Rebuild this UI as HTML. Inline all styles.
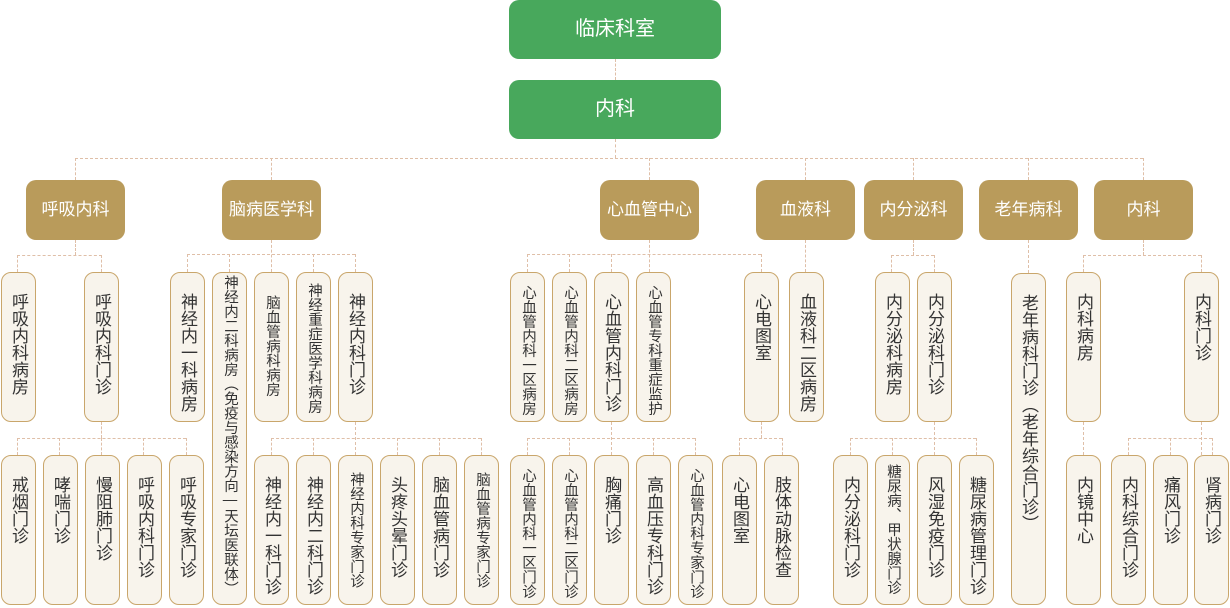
<!DOCTYPE html>
<html><head><meta charset="utf-8"><style>
body{margin:0;width:1230px;height:608px;background:#fff;position:relative;overflow:hidden;font-family:"Liberation Sans","Noto Sans CJK SC",sans-serif;}
.g{position:absolute;left:509px;width:212px;height:59px;background:#48a85c;border-radius:10px;color:#fff;font-size:20px;line-height:59px;text-align:center;}
.o{position:absolute;top:180px;width:99px;height:60px;background:#b99b5b;border-radius:10px;color:#fff;font-size:17px;line-height:60px;text-align:center;}
.v{position:absolute;width:35px;box-sizing:border-box;border:1px solid #c9a66b;border-radius:10px;background:#f8f4ec;writing-mode:vertical-rl;text-orientation:upright;font-size:17px;line-height:33px;padding-top:20px;color:#333;letter-spacing:0px;}
.s{font-size:14.5px;padding-top:16px;}
.a{top:272px;height:150px;}
.b{top:455px;height:150px;}
.h{position:absolute;height:0;border-top:1px dashed #dfbfa8;}
.l{position:absolute;width:0;border-left:1px dashed #dfbfa8;}
</style></head><body>
<div class="g" style="top:0">临床科室</div>
<div class="g" style="top:80px">内科</div>
<div class="l" style="left:615px;top:59px;height:21px"></div>
<div class="l" style="left:615px;top:139px;height:19px"></div>
<div class="h" style="left:75px;top:158px;width:1068px"></div>
<div class="l" style="left:75px;top:158px;height:22px"></div>
<div class="l" style="left:271px;top:158px;height:22px"></div>
<div class="l" style="left:649px;top:158px;height:22px"></div>
<div class="l" style="left:805px;top:158px;height:22px"></div>
<div class="l" style="left:913px;top:158px;height:22px"></div>
<div class="l" style="left:1028px;top:158px;height:22px"></div>
<div class="l" style="left:1143px;top:158px;height:22px"></div>

<div class="o" style="left:26px">呼吸内科</div>
<div class="o" style="left:222px">脑病医学科</div>
<div class="o" style="left:600px">心血管中心</div>
<div class="o" style="left:756px">血液科</div>
<div class="o" style="left:864px">内分泌科</div>
<div class="o" style="left:979px">老年病科</div>
<div class="o" style="left:1094px">内科</div>

<!-- level2 to rowA connectors -->
<div class="l" style="left:75px;top:240px;height:15px"></div>
<div class="h" style="left:17px;top:255px;width:85px"></div>
<div class="l" style="left:17px;top:255px;height:17px"></div>
<div class="l" style="left:101px;top:255px;height:17px"></div>

<div class="l" style="left:271px;top:240px;height:32px"></div>
<div class="h" style="left:187px;top:254px;width:168px"></div>
<div class="l" style="left:187px;top:254px;height:18px"></div>
<div class="l" style="left:229px;top:254px;height:18px"></div>
<div class="l" style="left:313px;top:254px;height:18px"></div>
<div class="l" style="left:355px;top:254px;height:18px"></div>

<div class="l" style="left:649px;top:240px;height:32px"></div>
<div class="h" style="left:527px;top:254px;width:234px"></div>
<div class="l" style="left:527px;top:254px;height:18px"></div>
<div class="l" style="left:569px;top:254px;height:18px"></div>
<div class="l" style="left:611px;top:254px;height:18px"></div>
<div class="l" style="left:761px;top:254px;height:18px"></div>

<div class="l" style="left:805px;top:240px;height:32px"></div>

<div class="l" style="left:913px;top:240px;height:15px"></div>
<div class="h" style="left:891px;top:255px;width:43px"></div>
<div class="l" style="left:891px;top:255px;height:17px"></div>
<div class="l" style="left:934px;top:255px;height:17px"></div>

<div class="l" style="left:1028px;top:240px;height:33px"></div>

<div class="l" style="left:1143px;top:240px;height:15px"></div>
<div class="h" style="left:1083px;top:255px;width:118px"></div>
<div class="l" style="left:1083px;top:255px;height:17px"></div>
<div class="l" style="left:1201px;top:255px;height:17px"></div>

<!-- row A -->
<div class="v a" style="left:1px">呼吸内科病房</div>
<div class="v a" style="left:84px">呼吸内科门诊</div>
<div class="v a" style="left:170px">神经内一科病房</div>
<div class="v s" style="left:212px;top:272px;height:333px;padding-top:2px">神经内二科病房（免疫与感染方向—天坛医联体）</div>
<div class="v a s" style="left:254px;padding-top:22px">脑血管病科病房</div>
<div class="v a s" style="left:296px;padding-top:10px">神经重症医学科病房</div>
<div class="v a" style="left:338px">神经内科门诊</div>
<div class="v a s" style="left:510px;padding-top:12px">心血管内科一区病房</div>
<div class="v a s" style="left:552px;padding-top:12px">心血管内科二区病房</div>
<div class="v a" style="left:594px">心血管内科门诊</div>
<div class="v a s" style="left:636px;padding-top:12px">心血管专科重症监护</div>
<div class="v a" style="left:744px">心电图室</div>
<div class="v a" style="left:789px">血液科二区病房</div>
<div class="v a" style="left:875px">内分泌科病房</div>
<div class="v a" style="left:917px">内分泌科门诊</div>
<div class="v" style="left:1011px;top:273px;height:332px">老年病科门诊（老年综合门诊）</div>
<div class="v a" style="left:1066px">内科病房</div>
<div class="v a" style="left:1184px">内科门诊</div>

<!-- rowA to rowB connectors -->
<div class="l" style="left:101px;top:422px;height:16px"></div>
<div class="h" style="left:17px;top:438px;width:169px"></div>
<div class="l" style="left:17px;top:438px;height:17px"></div>
<div class="l" style="left:59px;top:438px;height:17px"></div>
<div class="l" style="left:101px;top:438px;height:17px"></div>
<div class="l" style="left:143px;top:438px;height:17px"></div>
<div class="l" style="left:186px;top:438px;height:17px"></div>

<div class="l" style="left:355px;top:422px;height:33px"></div>
<div class="h" style="left:271px;top:438px;width:210px"></div>
<div class="l" style="left:271px;top:438px;height:17px"></div>
<div class="l" style="left:313px;top:438px;height:17px"></div>
<div class="l" style="left:397px;top:438px;height:17px"></div>
<div class="l" style="left:439px;top:438px;height:17px"></div>
<div class="l" style="left:481px;top:438px;height:17px"></div>

<div class="l" style="left:611px;top:422px;height:33px"></div>
<div class="h" style="left:527px;top:438px;width:168px"></div>
<div class="l" style="left:527px;top:438px;height:17px"></div>
<div class="l" style="left:569px;top:438px;height:17px"></div>
<div class="l" style="left:653px;top:438px;height:17px"></div>
<div class="l" style="left:695px;top:438px;height:17px"></div>

<div class="l" style="left:761px;top:422px;height:16px"></div>
<div class="h" style="left:739px;top:438px;width:43px"></div>
<div class="l" style="left:739px;top:438px;height:17px"></div>
<div class="l" style="left:782px;top:438px;height:17px"></div>

<div class="l" style="left:934px;top:422px;height:33px"></div>
<div class="h" style="left:850px;top:438px;width:126px"></div>
<div class="l" style="left:850px;top:438px;height:17px"></div>
<div class="l" style="left:892px;top:438px;height:17px"></div>
<div class="l" style="left:976px;top:438px;height:17px"></div>

<div class="l" style="left:1083px;top:422px;height:33px"></div>

<div class="l" style="left:1201px;top:422px;height:33px"></div>
<div class="h" style="left:1128px;top:438px;width:84px"></div>
<div class="l" style="left:1128px;top:438px;height:17px"></div>
<div class="l" style="left:1170px;top:438px;height:17px"></div>
<div class="l" style="left:1212px;top:438px;height:17px"></div>

<!-- row B -->
<div class="v b" style="left:1px">戒烟门诊</div>
<div class="v b" style="left:43px">哮喘门诊</div>
<div class="v b" style="left:85px">慢阻肺门诊</div>
<div class="v b" style="left:127px">呼吸内科门诊</div>
<div class="v b" style="left:169px">呼吸专家门诊</div>
<div class="v b" style="left:254px">神经内一科门诊</div>
<div class="v b" style="left:296px">神经内二科门诊</div>
<div class="v b s" style="left:338px">神经内科专家门诊</div>
<div class="v b" style="left:380px">头疼头晕门诊</div>
<div class="v b" style="left:422px">脑血管病门诊</div>
<div class="v b s" style="left:464px">脑血管病专家门诊</div>
<div class="v b s" style="left:510px;padding-top:12px">心血管内科一区门诊</div>
<div class="v b s" style="left:552px;padding-top:12px">心血管内科二区门诊</div>
<div class="v b" style="left:594px">胸痛门诊</div>
<div class="v b" style="left:636px">高血压专科门诊</div>
<div class="v b s" style="left:678px;padding-top:12px">心血管内科专家门诊</div>
<div class="v b" style="left:722px">心电图室</div>
<div class="v b" style="left:764px">肢体动脉检查</div>
<div class="v b" style="left:833px">内分泌科门诊</div>
<div class="v b s" style="left:875px;padding-top:8px">糖尿病、甲状腺门诊</div>
<div class="v b" style="left:917px">风湿免疫门诊</div>
<div class="v b" style="left:959px">糖尿病管理门诊</div>
<div class="v b" style="left:1066px">内镜中心</div>
<div class="v b" style="left:1111px">内科综合门诊</div>
<div class="v b" style="left:1153px">痛风门诊</div>
<div class="v b" style="left:1194px">肾病门诊</div>
</body></html>
